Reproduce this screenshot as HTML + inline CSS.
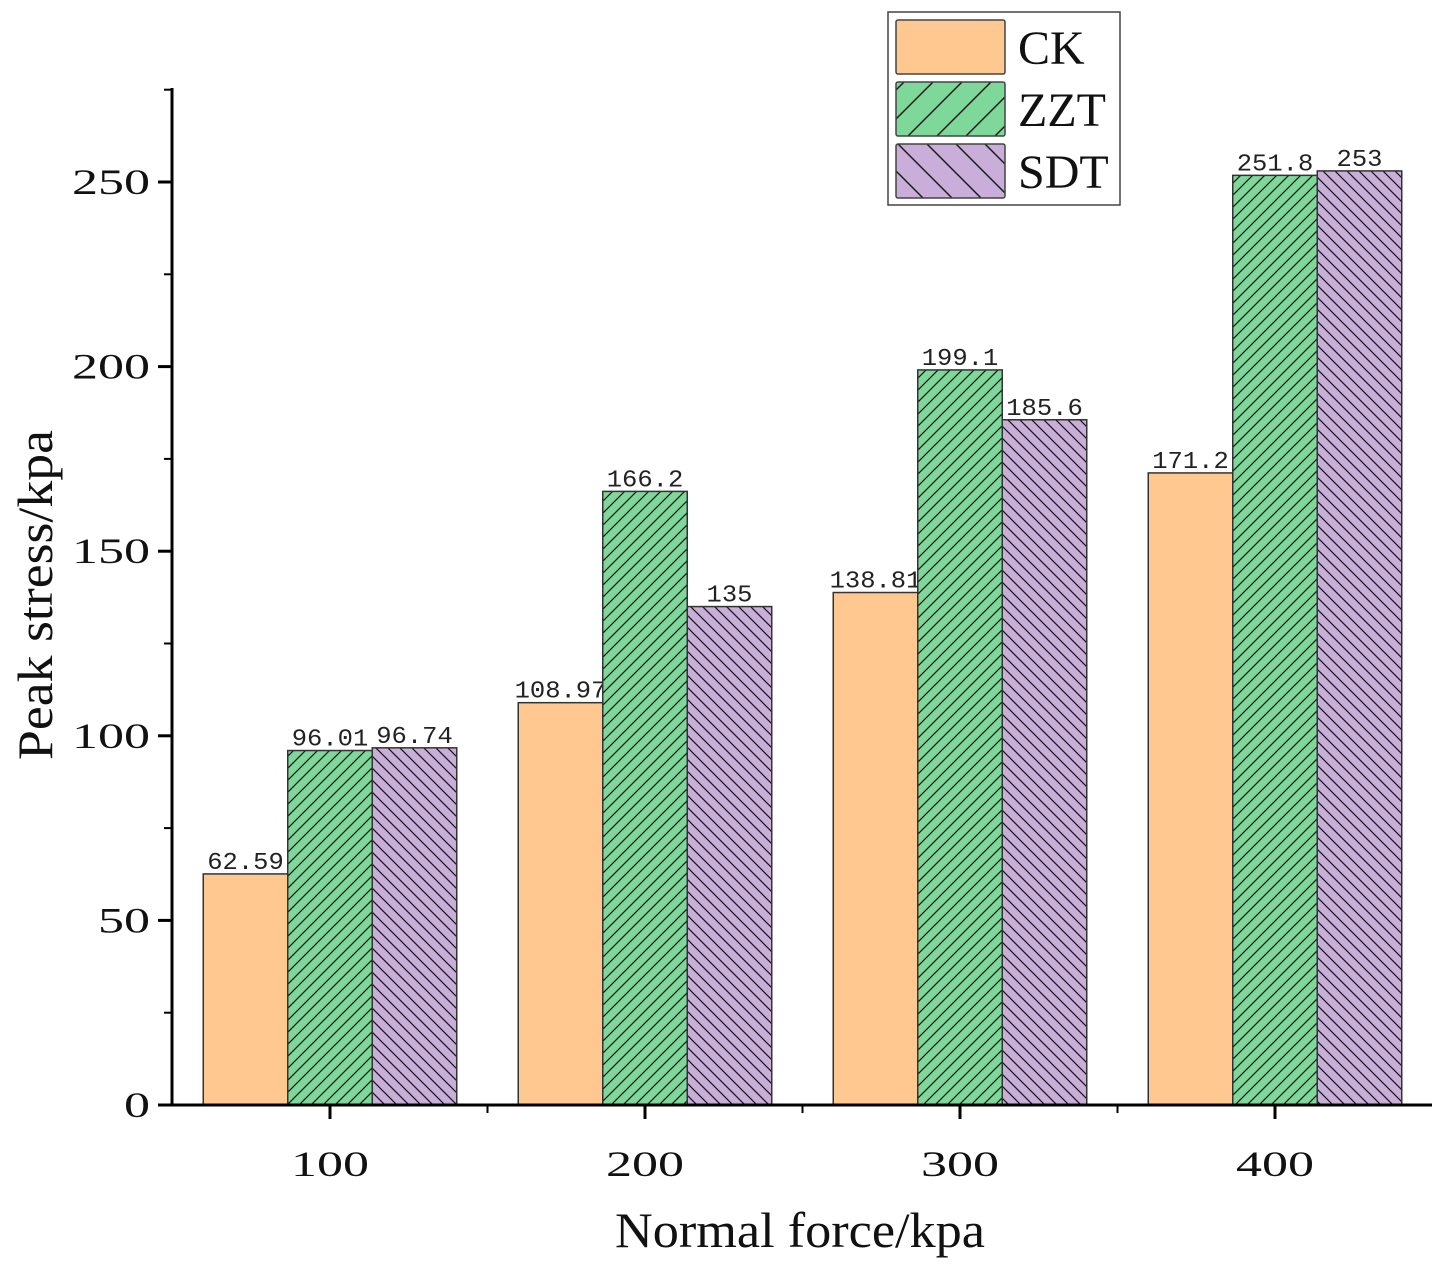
<!DOCTYPE html>
<html><head><meta charset="utf-8">
<style>
html,body{margin:0;padding:0;background:#fff;}
svg{display:block;}
</style></head>
<body>
<svg id="chart" width="1444" height="1271" xmlns="http://www.w3.org/2000/svg">
<defs>
<pattern id="hz" patternUnits="userSpaceOnUse" width="12" height="12">
<rect width="12" height="12" fill="#7DD89A"/>
<path d="M-3,3 L3,-3 M0,12 L12,0 M9,15 L15,9" stroke="#1a1a1a" stroke-width="1.3"/>
</pattern>
<pattern id="hs" patternUnits="userSpaceOnUse" width="12" height="12">
<rect width="12" height="12" fill="#C8AED8"/>
<path d="M-3,9 L3,15 M0,0 L12,12 M9,-3 L15,3" stroke="#1a1a1a" stroke-width="1.3"/>
</pattern>
<pattern id="lz" patternUnits="userSpaceOnUse" width="29" height="29">
<rect width="29" height="29" fill="#7DD89A"/>
<path d="M-5,5 L5,-5 M0,29 L29,0 M24,34 L34,24" stroke="#1a1a1a" stroke-width="1.5"/>
</pattern>
<pattern id="ls" patternUnits="userSpaceOnUse" width="29" height="29">
<rect width="29" height="29" fill="#C8AED8"/>
<path d="M-5,24 L5,34 M0,0 L29,29 M24,-5 L34,5" stroke="#1a1a1a" stroke-width="1.5"/>
</pattern>
</defs>
<g id="bars"></g>
<g id="axes"></g>
</svg>
<script>
const categories = ["100","200","300","400"];
const ckValues = [62.59,108.97,138.81,171.2];
const zztValues = [96.01,166.2,199.1,251.8];
const sdtValues = [96.74,135,185.6,253];
const ckLabels = ["62.59","108.97","138.81","171.2"];
const zztLabels = ["96.01","166.2","199.1","251.8"];
const sdtLabels = ["96.74","135","185.6","253"];
const yTicks = [0,50,100,150,200,250];

const NS="http://www.w3.org/2000/svg";
const x0=172, xEnd=1432, yBase=1105, yTop=88;
const yScale=v=>yBase-v*(923/250);
const xCenter=i=>330+i*315;
const bw=84.5;
function mk(tag,attrs,parent){const e=document.createElementNS(NS,tag);for(const k in attrs)e.setAttribute(k,attrs[k]);parent.appendChild(e);return e;}
const bars=document.getElementById('bars'), axes=document.getElementById('axes');
const series=[{v:ckValues,l:ckLabels,f:"#FFC891",n:"ck"},{v:zztValues,l:zztLabels,f:"url(#hz)",n:"zzt"},{v:sdtValues,l:sdtLabels,f:"url(#hs)",n:"sdt"}];
categories.forEach((c,i)=>{
  series.forEach((s,j)=>{
    const x=xCenter(i)-1.5*bw+j*bw, y=yScale(s.v[i]);
    const r=mk('rect',{x:x,y:y,width:bw,height:yBase-y,fill:s.f,stroke:"#333",'stroke-width':1.5},bars);
    
    
    const lbl=s.l[i];
    const t=mk('text',{x:x+bw/2,y:y-5,'text-anchor':'middle','font-family':'Liberation Mono, monospace','font-size':24,fill:'#222',textLength:15.3*lbl.length,lengthAdjust:'spacingAndGlyphs'},bars);
    t.textContent=lbl;
    
    
  });
  const tk=mk('line',{x1:xCenter(i),y1:yBase,x2:xCenter(i),y2:yBase+14,stroke:'#000','stroke-width':3},axes);
  
  
  const lb=mk('text',{x:xCenter(i),y:1176,'text-anchor':'middle','font-family':'Liberation Serif, serif','font-size':36,fill:'#111',textLength:78,lengthAdjust:'spacingAndGlyphs'},axes);
  lb.textContent=c;
  
  
  if(i<categories.length-1){
    const m=mk('line',{x1:xCenter(i)+157.5,y1:yBase,x2:xCenter(i)+157.5,y2:yBase+8,stroke:'#000','stroke-width':2},axes);
    
    
  }
});
yTicks.forEach(v=>{
  const y=yScale(v);
  const tk=mk('line',{x1:x0-14,y1:y,x2:x0,y2:y,stroke:'#000','stroke-width':3},axes);
  
  
  const s=String(v);
  const lb=mk('text',{x:x0-22,y:y+12,'text-anchor':'end','font-family':'Liberation Serif, serif','font-size':36,fill:'#111',textLength:26*s.length,lengthAdjust:'spacingAndGlyphs'},axes);
  lb.textContent=s;
  
  
  const my=yScale(v+25);
  if(my>yTop){const m=mk('line',{x1:x0-8,y1:my,x2:x0,y2:my,stroke:'#000','stroke-width':2},axes);
  
  }
});
const ya=mk('line',{x1:x0,y1:yTop,x2:x0,y2:yBase+1,stroke:'#000','stroke-width':3},axes);


const xa=mk('line',{x1:x0-14,y1:yBase,x2:xEnd,y2:yBase,stroke:'#000','stroke-width':3},axes);


const xt=mk('text',{x:800,y:1247,'text-anchor':'middle','font-family':'Liberation Serif, serif','font-size':50,fill:'#111',textLength:370,lengthAdjust:'spacingAndGlyphs'},axes);
xt.textContent='Normal force/kpa';


const yt=mk('text',{x:0,y:0,transform:'translate(52,595) rotate(-90)','text-anchor':'middle','font-family':'Liberation Serif, serif','font-size':50,fill:'#111',textLength:330,lengthAdjust:'spacingAndGlyphs'},axes);
yt.textContent='Peak stress/kpa';


// legend
const lg=mk('g',{},axes);


mk('rect',{x:888,y:12,width:232,height:193,fill:'#fff',stroke:'#444','stroke-width':1.5},lg);
const lnames=["CK","ZZT","SDT"], lfills=["#FFC891","url(#lz)","url(#ls)"];
lnames.forEach((n,k)=>{
  const y=20+k*62;
  const sw=mk('rect',{x:896,y:y,width:109,height:54,fill:lfills[k],stroke:'#444','stroke-width':1.5,rx:2},lg);
  
  
  const t=mk('text',{x:1018,y:y+44,'font-family':'Liberation Serif, serif','font-size':48,fill:'#111'},lg);
  t.textContent=n;
  
  
});
</script>
</body></html>
